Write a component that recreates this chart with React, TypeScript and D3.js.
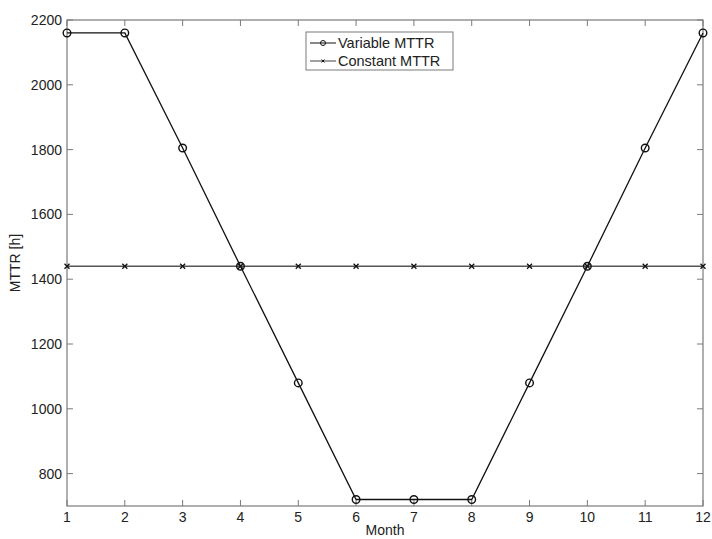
import React from "react";
import * as d3 from "d3";

const months = [1, 2, 3, 4, 5, 6, 7, 8, 9, 10, 11, 12];
const variableMTTR = [2160, 2160, 1805, 1440, 1080, 720, 720, 720, 1080, 1440, 1805, 2160];
const constantMTTR = [1440, 1440, 1440, 1440, 1440, 1440, 1440, 1440, 1440, 1440, 1440, 1440];
const yTicks = [800, 1000, 1200, 1400, 1600, 1800, 2000, 2200];
const legendLabels = ["Variable MTTR", "Constant MTTR"];

const W = 712;
const H = 539;
const left = 67;
const right = 703;
const top = 20;
const bottom = 506;
const font = "'Liberation Sans', Arial, sans-serif";
const axisColor = "#7a7a7a";

export default function App() {
  const x = d3.scaleLinear().domain([1, 12]).range([left, right]);
  const y = d3.scaleLinear().domain([700, 2200]).range([bottom, top]);
  const line = d3
    .line<number>()
    .x((_, i) => x(months[i]))
    .y((d) => y(d));

  const tickLen = 6;
  const xMark = (cx: number, cy: number, s: number) =>
    `M${cx - s},${cy - s}L${cx + s},${cy + s}M${cx - s},${cy + s}L${cx + s},${cy - s}`;

  const lx = 306;
  const ly = 32;
  const lw = 147;
  const lh = 38;

  return (
    <svg
      width={W}
      height={H}
      style={{ position: "absolute", left: 0, top: 0, background: "#fff" }}
      fontFamily={font}
    >
      {/* axes box */}
      <rect x={left} y={top} width={right - left} height={bottom - top} fill="none" stroke={axisColor} strokeWidth={1.2} />
      {months.map((m) => (
        <g key={"xt" + m}>
          <line x1={x(m)} x2={x(m)} y1={bottom} y2={bottom - tickLen} stroke={axisColor} />
          <line x1={x(m)} x2={x(m)} y1={top} y2={top + tickLen} stroke={axisColor} />
          <text x={x(m)} y={522} fontSize={14} textAnchor="middle" fill="#222">
            {m}
          </text>
        </g>
      ))}
      {yTicks.map((t) => (
        <g key={"yt" + t}>
          <line x1={left} x2={left + tickLen} y1={y(t)} y2={y(t)} stroke={axisColor} />
          <line x1={right} x2={right - tickLen} y1={y(t)} y2={y(t)} stroke={axisColor} />
          <text x={62} y={y(t) + 5} fontSize={14} textAnchor="end" fill="#222">
            {t}
          </text>
        </g>
      ))}
      <text x={(left + right) / 2} y={535} fontSize={14} textAnchor="middle" fill="#222">
        Month
      </text>
      <text
        transform={`translate(20,${(top + bottom) / 2}) rotate(-90)`}
        fontSize={14}
        textAnchor="middle"
        fill="#222"
      >
        MTTR [h]
      </text>

      {/* constant series */}
      <path d={line(constantMTTR) || ""} fill="none" stroke="#555" strokeWidth={1.3} />
      {constantMTTR.map((v, i) => (
        <path key={"c" + i} d={xMark(x(months[i]), y(v), 2.5)} stroke="#111" strokeWidth={1.3} />
      ))}

      {/* variable series */}
      <path d={line(variableMTTR) || ""} fill="none" stroke="#111" strokeWidth={1.3} />
      {variableMTTR.map((v, i) => (
        <circle key={"v" + i} cx={x(months[i])} cy={y(v)} r={3.8} fill="none" stroke="#111" strokeWidth={1.4} />
      ))}

      {/* legend */}
      <rect x={lx} y={ly} width={lw} height={lh} fill="#fff" stroke={axisColor} strokeWidth={1} />
      <line x1={lx + 4} x2={lx + 30} y1={ly + 11} y2={ly + 11} stroke="#111" />
      <circle cx={lx + 17} cy={ly + 11} r={2.5} fill="none" stroke="#111" />
      <text x={lx + 32} y={ly + 16} fontSize={14.5} fill="#222">
        {legendLabels[0]}
      </text>
      <line x1={lx + 4} x2={lx + 30} y1={ly + 29} y2={ly + 29} stroke="#444" />
      <path d={xMark(lx + 17, ly + 29, 1.5)} stroke="#111" />
      <text x={lx + 32} y={ly + 34} fontSize={14.5} fill="#222">
        {legendLabels[1]}
      </text>
    </svg>
  );
}
